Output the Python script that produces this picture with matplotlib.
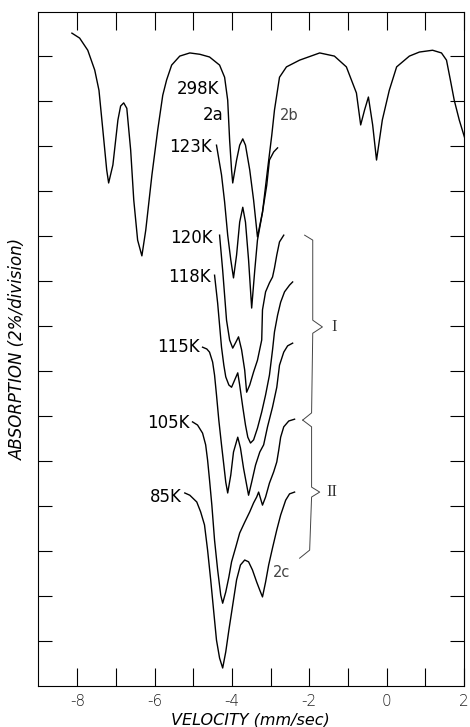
import matplotlib
matplotlib.use('Agg')
import matplotlib.pyplot as plt

plt.rcParams['font.family'] = ['DejaVu Sans']
plt.rcParams['axes.unicode_minus'] = False

# ---------------------- spectra: velocity (mm/sec), absorption (divisions) ----------------------
v_298 = [-8.14, -7.94, -7.73, -7.55, -7.44, -7.34, -7.24, -7.19, -7.08, -6.95, -6.88, -6.80, -6.72, -6.62,
         -6.54, -6.44, -6.33, -6.23, -6.07, -5.92, -5.79, -5.69, -5.56, -5.35, -5.09, -4.83, -4.58, -4.32,
         -4.19, -4.11, -4.06, -4.01, -3.98, -3.88, -3.80, -3.72, -3.65, -3.54, -3.44, -3.34, -3.21, -3.08,
         -2.97, -2.90, -2.77, -2.59, -2.25, -1.73, -1.35, -1.04, -0.91, -0.78, -0.67, -0.57, -0.47, -0.36,
         -0.26, -0.11, 0.07, 0.26, 0.59, 0.85, 1.19, 1.42, 1.55, 1.65, 1.75, 1.88, 2.06]
a_298 = [14.51, 14.40, 14.13, 13.69, 13.24, 12.36, 11.47, 11.18, 11.58, 12.58, 12.89, 12.96, 12.84, 11.91,
         10.80, 9.91, 9.56, 10.13, 11.36, 12.36, 13.13, 13.47, 13.80, 14.00, 14.07, 14.04, 13.98, 13.80,
         13.53, 13.02, 12.13, 11.47, 11.18, 11.69, 12.02, 12.16, 12.02, 11.47, 10.80, 9.98, 10.53, 11.47,
         12.24, 12.80, 13.53, 13.76, 13.91, 14.07, 14.00, 13.76, 13.47, 13.18, 12.47, 12.80, 13.09, 12.47,
         11.69, 12.58, 13.24, 13.76, 14.00, 14.09, 14.13, 14.07, 13.91, 13.47, 13.02, 12.58, 12.07]

v_123 = [-4.40, -4.27, -4.19, -4.11, -4.03, -3.96, -3.88, -3.80, -3.72, -3.65, -3.57, -3.49, -3.41, -3.34,
         -3.21, -3.10, -3.03, -2.92, -2.82]
a_123 = [12.02, 11.36, 10.76, 10.02, 9.47, 9.07, 9.58, 10.31, 10.64, 10.31, 9.47, 8.40, 9.24, 9.91,
         10.53, 11.13, 11.69, 11.87, 11.96]

v_120 = [-4.32, -4.24, -4.14, -4.06, -3.98, -3.90, -3.83, -3.75, -3.67, -3.62, -3.54, -3.44, -3.34, -3.23,
         -3.21, -3.13, -3.03, -2.95, -2.90, -2.84, -2.77, -2.66]
a_120 = [10.02, 9.24, 8.13, 7.69, 7.51, 7.64, 7.76, 7.47, 7.02, 6.53, 6.69, 6.98, 7.24, 7.69,
         8.36, 8.76, 8.96, 9.09, 9.29, 9.58, 9.87, 10.02]

v_118 = [-4.45, -4.37, -4.32, -4.27, -4.21, -4.16, -4.08, -4.01, -3.93, -3.85, -3.80, -3.72, -3.65, -3.59,
         -3.52, -3.44, -3.34, -3.23, -3.13, -3.03, -2.95, -2.90, -2.82, -2.74, -2.64, -2.51, -2.43]
a_118 = [9.13, 8.51, 8.02, 7.53, 7.13, 6.87, 6.69, 6.64, 6.80, 6.96, 6.69, 6.20, 5.80, 5.53,
         5.40, 5.47, 5.73, 6.09, 6.47, 6.91, 7.47, 7.87, 8.24, 8.53, 8.76, 8.91, 8.98]

v_115 = [-4.76, -4.65, -4.58, -4.50, -4.45, -4.40, -4.34, -4.27, -4.21, -4.16, -4.11, -4.03, -3.96, -3.85,
         -3.78, -3.70, -3.62, -3.57, -3.49, -3.39, -3.28, -3.18, -3.08, -2.95, -2.84, -2.77, -2.66, -2.56,
         -2.43]
a_115 = [7.53, 7.49, 7.42, 7.20, 6.91, 6.47, 5.91, 5.36, 4.91, 4.53, 4.29, 4.69, 5.20, 5.53,
         5.29, 4.84, 4.47, 4.24, 4.53, 4.91, 5.20, 5.36, 5.76, 6.20, 6.64, 7.13, 7.42, 7.56,
         7.62]

v_105 = [-5.02, -4.89, -4.76, -4.68, -4.63, -4.58, -4.52, -4.45, -4.37, -4.29, -4.24, -4.16, -4.08, -4.01,
         -3.90, -3.80, -3.67, -3.54, -3.44, -3.36, -3.31, -3.21, -3.13, -3.03, -2.92, -2.84, -2.79, -2.74,
         -2.66, -2.53, -2.38]
a_105 = [5.87, 5.80, 5.62, 5.36, 5.02, 4.58, 4.02, 3.24, 2.58, 2.02, 1.84, 2.09, 2.42, 2.76,
         3.09, 3.40, 3.64, 3.87, 4.07, 4.20, 4.31, 4.02, 4.20, 4.51, 4.76, 4.98, 5.24, 5.53,
         5.76, 5.89, 5.93]

v_85 = [-5.22, -5.09, -4.91, -4.81, -4.71, -4.63, -4.55, -4.47, -4.40, -4.32, -4.24, -4.16, -4.08, -3.98,
        -3.88, -3.78, -3.67, -3.57, -3.47, -3.36, -3.28, -3.21, -3.13, -3.05, -2.95, -2.84, -2.74, -2.61,
        -2.51, -2.38]
a_85 = [4.29, 4.24, 4.09, 3.87, 3.58, 3.02, 2.36, 1.64, 1.02, 0.62, 0.40, 0.76, 1.24, 1.80,
        2.36, 2.69, 2.80, 2.76, 2.58, 2.31, 2.13, 1.98, 2.31, 2.69, 3.07, 3.47, 3.80, 4.13,
        4.27, 4.31]

curves = [(v_298, a_298), (v_123, a_123), (v_120, a_120), (v_118, a_118),
          (v_115, a_115), (v_105, a_105), (v_85, a_85)]

# temperature labels (text, v, a)
temp_labels = [('298K', -4.32, 13.27), ('123K', -4.52, 11.98), ('120K', -4.50, 9.96), ('118K', -4.55, 9.09),
               ('115K', -4.83, 7.53), ('105K', -5.09, 5.84), ('85K', -5.30, 4.20)]

# braces for regions I and II
brace_I_v = [-2.12, -1.91, -1.91, -1.66, -1.91, -1.94, -2.17]
brace_I_a = [10.02, 9.91, 8.13, 7.98, 7.84, 6.07, 5.91]
brace_II_v = [-2.17, -1.94, -1.94, -1.73, -1.94, -1.99, -2.25]
brace_II_a = [5.91, 5.76, 4.42, 4.31, 4.20, 3.02, 2.84]

x_ticks = [-8, -7, -6, -5, -4, -3, -2, -1, 0, 1, 2]
x_ticklabels = ['-8', '', '-6', '', '-4', '', '-2', '', '0', '', '2']
y_ticks = list(range(1, 15))

# ----------------------------------- figure --------------------------------------
fig = plt.figure(figsize=(4.70, 7.27), dpi=100)
ax = fig.add_axes([0.0798, 0.0564, 0.9072, 0.9271])

for v, a in curves:
    ax.plot(v, a, color='black', linewidth=1.0)

for txt, v, a in temp_labels:
    ax.text(v, a, txt, ha='right', va='center', fontsize=12, color='black')

ax.text(-4.21, 12.69, '2a', ha='right', va='center', fontsize=12, color='black')
ax.text(-2.77, 12.69, '2b', ha='left', va='center', fontsize=10.5, color='#444444')
ax.text(-2.95, 2.53, '2c', ha='left', va='center', fontsize=10.5, color='#444444')

ax.plot(brace_I_v, brace_I_a, color='#444444', linewidth=0.7)
ax.plot(brace_II_v, brace_II_a, color='#444444', linewidth=0.7)
ax.text(-1.35, 7.98, 'I', ha='center', va='center', fontsize=12, family='Liberation Serif', color='#333333')
ax.text(-1.42, 4.31, 'II', ha='center', va='center', fontsize=12, family='Liberation Serif', color='#333333')

ax.set_xlim(-9.03, 2.0)
ax.set_ylim(0, 14.98)
ax.set_xticks(x_ticks)
ax.set_xticklabels(x_ticklabels, fontsize=11, color='#222222', fontweight='light')
ax.set_yticks(y_ticks)
ax.set_yticklabels([])
ax.tick_params(axis='x', direction='in', length=13, width=0.8, top=True, bottom=True, pad=6)
ax.tick_params(axis='y', direction='in', length=10, width=0.8, left=True, right=True)
for s in ax.spines.values():
    s.set_linewidth(0.8)

ax.set_xlabel('VELOCITY (mm/sec)', fontsize=11.5, fontstyle='italic', fontweight='light', labelpad=2)
ax.set_ylabel('ABSORPTION (2%/division)', fontsize=12, fontstyle='italic', fontweight='light', labelpad=4)

plt.savefig('out.png', dpi=100)
